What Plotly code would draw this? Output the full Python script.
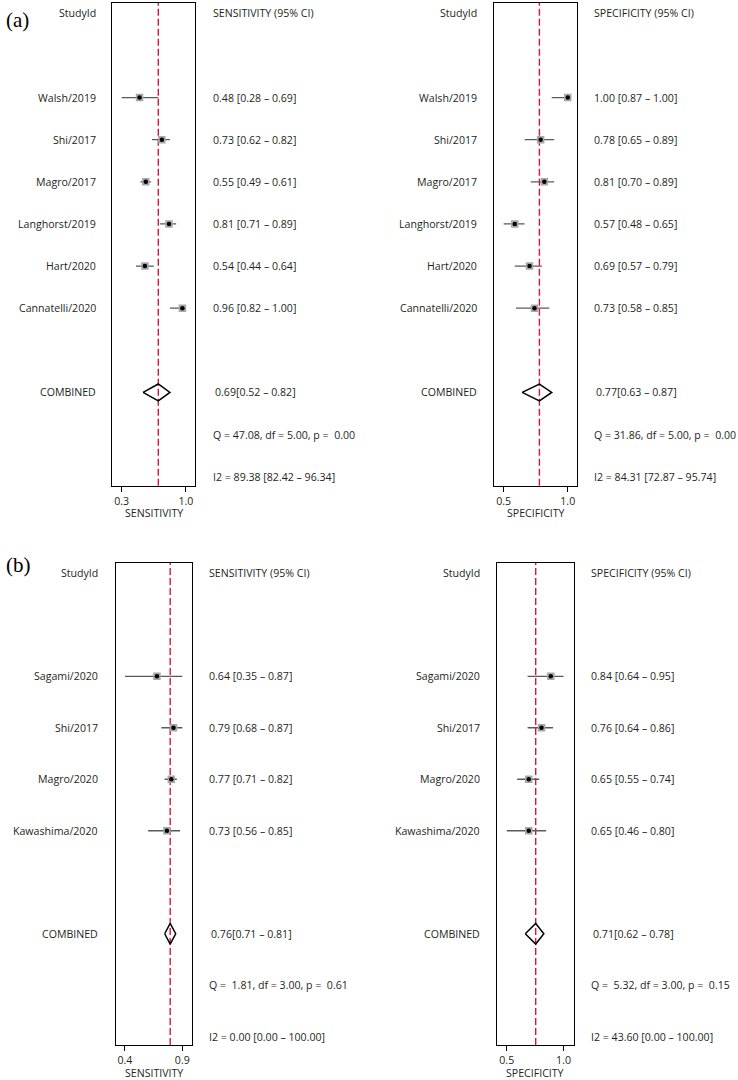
import plotly.graph_objects as go

# ---------------- data ----------------
a_studies = ["Walsh/2019", "Shi/2017", "Magro/2017", "Langhorst/2019", "Hart/2020", "Cannatelli/2020"]
a_sens = [0.48, 0.73, 0.55, 0.81, 0.54, 0.96]
a_sens_lo = [0.28, 0.62, 0.49, 0.71, 0.44, 0.82]
a_sens_hi = [0.69, 0.82, 0.61, 0.89, 0.64, 1.00]
a_spec = [1.00, 0.78, 0.81, 0.57, 0.69, 0.73]
a_spec_lo = [0.87, 0.65, 0.70, 0.48, 0.57, 0.58]
a_spec_hi = [1.00, 0.89, 0.89, 0.65, 0.79, 0.85]
a_sens_pooled = [0.69, 0.52, 0.82]
a_spec_pooled = [0.77, 0.63, 0.87]
a_sens_q = [47.08, 5.00, 0.00]
a_spec_q = [31.86, 5.00, 0.00]
a_sens_i2 = [89.38, 82.42, 96.34]
a_spec_i2 = [84.31, 72.87, 95.74]
a_sens_ticks = ["0.3", "1.0"]
a_spec_ticks = ["0.5", "1.0"]

b_studies = ["Sagami/2020", "Shi/2017", "Magro/2020", "Kawashima/2020"]
b_sens = [0.64, 0.79, 0.77, 0.73]
b_sens_lo = [0.35, 0.68, 0.71, 0.56]
b_sens_hi = [0.87, 0.87, 0.82, 0.85]
b_spec = [0.84, 0.76, 0.65, 0.65]
b_spec_lo = [0.64, 0.64, 0.55, 0.46]
b_spec_hi = [0.95, 0.86, 0.74, 0.80]
b_sens_pooled = [0.76, 0.71, 0.81]
b_spec_pooled = [0.71, 0.62, 0.78]
b_sens_q = [1.81, 3.00, 0.61]
b_spec_q = [5.32, 3.00, 0.15]
b_sens_i2 = [0.00, 0.00, 100.00]
b_spec_i2 = [43.60, 0.00, 100.00]
b_sens_ticks = ["0.4", "0.9"]
b_spec_ticks = ["0.5", "1.0"]

# ---------------- layout helpers ----------------
W, H = 738, 1080
FONT = "Open Sans"
TXT = "#231f20"
FS = 10.6

fig = go.Figure()
annotations = []
shapes = []


def px_x(p):
    return p / W


def px_y(p):
    return 1 - p / H


def nb(s):
    return s.replace(" ", "\u00a0")


def panel(k, names, est, lo, hi, pooled, q, i2, ticktext, title, header,
          xdom, ydom, xrange, yrange, label_right, text_left):
    xa = "x" if k == 1 else f"x{k}"
    ya = "y" if k == 1 else f"y{k}"
    n = len(names)
    rows = [2 + i for i in range(n)]
    comb_row = n + 3

    # CI lines
    cx, cy = [], []
    for r, l, h in zip(rows, lo, hi):
        cx += [l, h, None]
        cy += [r, r, None]
    fig.add_trace(go.Scatter(x=cx, y=cy, mode="lines", xaxis=xa, yaxis=ya,
                             line=dict(color="#5a5a5a", width=1.3),
                             hoverinfo="skip", showlegend=False))
    # grey squares
    fig.add_trace(go.Scatter(x=est, y=rows, mode="markers", xaxis=xa, yaxis=ya,
                             marker=dict(symbol="square", size=7.5, color="#a8a8a8",
                                         line=dict(width=0)),
                             showlegend=False))
    # black dots
    fig.add_trace(go.Scatter(x=est, y=rows, mode="markers", xaxis=xa, yaxis=ya,
                             marker=dict(symbol="circle", size=4.5, color="black",
                                         line=dict(width=0)),
                             showlegend=False))
    # diamond
    pe, pl, ph = pooled
    hh = 0.2
    fig.add_trace(go.Scatter(x=[pl, pe, ph, pe, pl],
                             y=[comb_row, comb_row - hh, comb_row, comb_row + hh, comb_row],
                             mode="lines", xaxis=xa, yaxis=ya,
                             line=dict(color="black", width=1.5),
                             showlegend=False))
    # red pooled line
    shapes.append(dict(type="line", xref=xa, yref=f"{ya} domain", x0=pe, x1=pe,
                       y0=0, y1=1, layer="below",
                       line=dict(color="#d6173d", width=1.4, dash="7px,3px")))

    axis_x = dict(domain=[px_x(xdom[0]), px_x(xdom[1])], range=xrange,
                  showgrid=False, zeroline=False, showline=True, mirror=True,
                  linecolor="black", linewidth=1.2, ticks="outside", ticklen=5,
                  tickwidth=1, tickcolor="black",
                  tickvals=[min(lo), max(hi)], ticktext=ticktext,
                  tickfont=dict(family=FONT, size=FS, color=TXT),
                  anchor=ya, fixedrange=True)
    axis_y = dict(domain=[px_y(ydom[1]), px_y(ydom[0])], range=yrange,
                  showgrid=False, zeroline=False, showline=True, mirror=True,
                  linecolor="black", linewidth=1.2, ticks="",
                  showticklabels=False, anchor=xa, fixedrange=True)
    fig.update_layout(**{("xaxis" if k == 1 else f"xaxis{k}"): axis_x,
                         ("yaxis" if k == 1 else f"yaxis{k}"): axis_y})

    f = dict(family=FONT, size=FS, color=TXT)

    def ann(text, xpx, row, anchor, shift=0):
        annotations.append(dict(text=text, x=px_x(xpx), y=row, xref="paper", yref=ya,
                                xanchor=anchor, yanchor="middle", showarrow=False,
                                font=f, xshift=shift))

    ann("StudyId", label_right, 0, "right")
    ann(header, text_left, 0, "left")
    for r, nm, e, l, h in zip(rows, names, est, lo, hi):
        ann(nm, label_right, r, "right")
        ann(nb(f"{e:.2f} [{l:.2f} – {h:.2f}]"), text_left, r, "left")
    ann("COMBINED", label_right, comb_row, "right")
    ann(nb(f"{pe:.2f}[{pl:.2f} – {ph:.2f}]"), text_left, comb_row, "left", shift=2)
    ann(nb(f"Q = {q[0]:5.2f}, df = {q[1]:.2f}, p = {q[2]:5.2f}"), text_left, comb_row + 1, "left")
    ann(nb(f"I2 = {i2[0]:.2f} [{i2[1]:.2f} – {i2[2]:.2f}]"), text_left, comb_row + 2, "left")

    # axis title
    annotations.append(dict(text=title, x=px_x((xdom[0] + xdom[1]) / 2),
                            y=px_y(ydom[1] + 27.5), xref="paper", yref="paper",
                            xanchor="center", yanchor="middle", showarrow=False,
                            font=f))


panel(1, a_studies, a_sens, a_sens_lo, a_sens_hi, a_sens_pooled, a_sens_q, a_sens_i2,
      a_sens_ticks, "SENSITIVITY", "SENSITIVITY (95% CI)",
      (112.3, 195.0), (3.0, 485.7), [0.175, 1.101], [11.214, -0.245], 97.5, 210.7)
panel(2, a_studies, a_spec, a_spec_lo, a_spec_hi, a_spec_pooled, a_spec_q, a_spec_i2,
      a_spec_ticks, "SPECIFICITY", "SPECIFICITY (95% CI)",
      (494.3, 577.0), (3.0, 485.7), [0.404, 1.075], [11.214, -0.245], 479.0, 592.3)
panel(3, b_studies, b_sens, b_sens_lo, b_sens_hi, b_sens_pooled, b_sens_q, b_sens_i2,
      b_sens_ticks, "SENSITIVITY", "SENSITIVITY (95% CI)",
      (115.7, 191.7), (562.7, 1045.0), [0.266, 0.955], [9.161, -0.206], 100.0, 207.3)
panel(4, b_studies, b_spec, b_spec_lo, b_spec_hi, b_spec_pooled, b_spec_q, b_spec_i2,
      b_spec_ticks, "SPECIFICITY", "SPECIFICITY (95% CI)",
      (497.0, 573.5), (562.7, 1045.0), [0.376, 1.036], [9.161, -0.206], 482.0, 588.7)

# panel letters
for lab, ypx in [("(a)", 19.5), ("(b)", 565.0)]:
    annotations.append(dict(text=lab, x=px_x(4), y=px_y(ypx), xref="paper", yref="paper",
                            xanchor="left", yanchor="middle", showarrow=False,
                            font=dict(family="Liberation Serif", size=21, color="black")))

fig.update_layout(width=W, height=H, margin=dict(l=0, r=0, t=0, b=0),
                  paper_bgcolor="white", plot_bgcolor="white",
                  showlegend=False, annotations=annotations, shapes=shapes,
                  font=dict(family=FONT, size=FS, color=TXT))

fig.write_html("out.html", config={"displayModeBar": False},
               post_script="document.body.style.margin='0';document.body.style.overflow='hidden';")
